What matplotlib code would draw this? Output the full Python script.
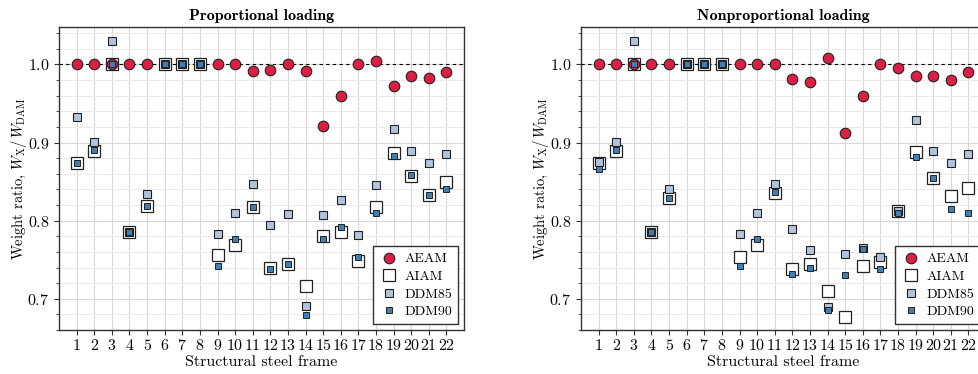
import numpy as np
import matplotlib
matplotlib.use("Agg")
import matplotlib.pyplot as plt
from matplotlib.ticker import MultipleLocator

plt.rcParams['font.family'] = ['cmr10', 'DejaVu Serif']
plt.rcParams['mathtext.fontset'] = 'cm'
plt.rcParams['axes.unicode_minus'] = False
plt.rcParams['axes.formatter.use_mathtext'] = True

frames = list(range(1, 23))
nan = np.nan

# Proportional loading
prop_aeam = [1.0, 1.0, 1.0, 1.0, 1.0, nan, nan, nan, 1.0, 1.0, 0.992, 0.993, 1.0, 0.992,
             0.921, 0.960, 1.0, 1.004, 0.973, 0.985, 0.983, 0.990]
prop_aiam = [0.874, 0.889, 1.0, 0.786, 0.819, 1.0, 1.0, 1.0, 0.756, 0.769, 0.818, 0.739, 0.744, 0.717,
             0.781, 0.785, 0.748, 0.818, 0.887, 0.857, 0.833, 0.849]
prop_ddm85 = [0.933, 0.901, 1.030, 0.786, 0.834, 1.0, 1.0, 1.0, 0.783, 0.810, 0.847, 0.794, 0.809, 0.691,
              0.807, 0.827, 0.782, 0.846, 0.918, 0.889, 0.874, 0.885]
prop_ddm90 = [0.874, 0.890, 1.0, 0.786, 0.819, 1.0, 1.0, 1.0, 0.742, 0.776, 0.818, 0.738, 0.744, 0.679,
              0.776, 0.792, 0.753, 0.810, 0.883, 0.858, 0.833, 0.841]

# Nonproportional loading
nonp_aeam = [1.0, 1.0, 1.0, 1.0, 1.0, nan, nan, nan, 1.0, 1.0, 1.0, 0.982, 0.977, 1.0085,
             0.912, 0.960, 1.0, 0.995, 0.985, 0.985, 0.980, 0.990]
nonp_aiam = [0.874, 0.889, 1.0, 0.786, 0.829, 1.0, 1.0, 1.0, 0.754, 0.769, 0.835, 0.738, 0.744, 0.710,
             0.677, 0.742, 0.747, 0.812, 0.888, 0.855, 0.832, 0.842]
nonp_ddm85 = [0.875, 0.901, 1.030, 0.786, 0.840, 1.0, 1.0, 1.0, 0.783, 0.810, 0.847, 0.789, 0.763, 0.690,
              0.757, 0.765, 0.754, 0.812, 0.929, 0.889, 0.874, 0.885]
nonp_ddm90 = [0.866, 0.890, 1.0, 0.786, 0.829, 1.0, 1.0, 1.0, 0.742, 0.776, 0.837, 0.732, 0.739, 0.685,
              0.731, 0.764, 0.738, 0.810, 0.881, 0.855, 0.815, 0.810]

titles = ["Proportional loading", "Nonproportional loading"]
series = [(prop_aeam, prop_aiam, prop_ddm85, prop_ddm90),
          (nonp_aeam, nonp_aiam, nonp_ddm85, nonp_ddm90)]

red = '#DC1E44'
light = '#B0C4DE'
steel = '#3F7FB3'
edge = '#222222'

fig = plt.figure(figsize=(9.79, 3.74), dpi=100)
positions = [[0.0603, 0.1176, 0.4137, 0.8102], [0.5935, 0.1176, 0.4137, 0.8102]]

for pos, title, (aeam, aiam, d85, d90) in zip(positions, titles, series):
    ax = fig.add_axes(pos)
    ax.set_xlim(0, 23)
    ax.set_ylim(0.66, 1.048)
    ax.yaxis.set_major_locator(MultipleLocator(0.1))
    ax.yaxis.set_minor_locator(MultipleLocator(0.02))
    ax.set_xticks(frames)
    ax.grid(True, which='major', color='#d8d8d8', lw=0.8, zorder=0)
    ax.grid(True, which='minor', axis='y', color='#ebebeb', lw=0.7, zorder=0)
    ax.set_axisbelow(True)
    ax.axhline(1.0, color='k', ls=(0, (3, 3)), lw=0.8, zorder=1)
    ax.plot(frames, aiam, ls='none', marker='s', ms=8.6, mfc='white', mec=edge, mew=0.9,
            label='AIAM', zorder=2)
    ax.plot(frames, aeam, ls='none', marker='o', ms=7.6, mfc=red, mec=edge, mew=0.8,
            label='AEAM', zorder=3)
    ax.plot(frames, d85, ls='none', marker='s', ms=6.4, mfc=light, mec=edge, mew=0.8,
            label='DDM85', zorder=4)
    ax.plot(frames, d90, ls='none', marker='s', ms=3.8, mfc=steel, mec=edge, mew=0.7,
            label='DDM90', zorder=5)
    ax.set_title(title, fontsize=11.5, fontfamily='cmb10', pad=5)
    ax.set_xlabel('Structural steel frame', fontsize=11.5, labelpad=2)
    ax.set_ylabel(r'Weight ratio, $W_{\mathrm{X}}/\,W_{\mathrm{DAM}}$', fontsize=10.5, labelpad=-1)
    ax.tick_params(axis='both', which='major', labelsize=11.5, length=3.5, width=0.8, color='#333333')
    ax.tick_params(axis='y', which='minor', length=2, width=0.6, color='#333333')
    ax.tick_params(axis='x', pad=2)
    for s in ax.spines.values():
        s.set_color('#333333')
        s.set_linewidth(1.0)
    handles, labels = ax.get_legend_handles_labels()
    order = [1, 0, 2, 3]
    leg = ax.legend([handles[i] for i in order], [labels[i] for i in order],
                    loc='lower right', fontsize=10, fancybox=False, framealpha=1,
                    edgecolor='#333333', borderpad=0.45, handletextpad=0.4,
                    handlelength=1.4, labelspacing=0.35, borderaxespad=0.4)
    leg.get_frame().set_linewidth(1.0)

fig.savefig('out.png', dpi=100)
